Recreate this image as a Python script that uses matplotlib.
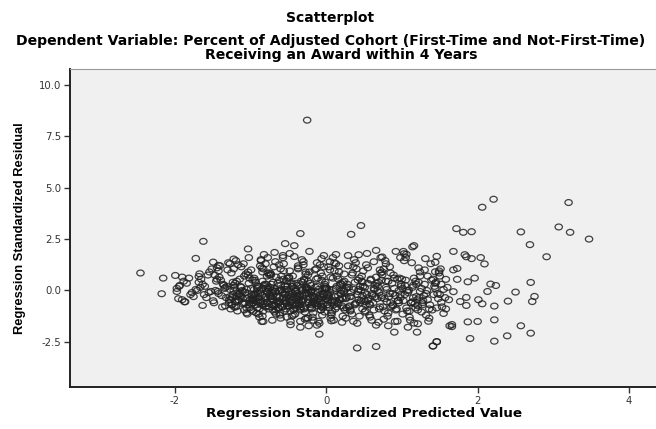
import numpy as np
import matplotlib
matplotlib.use('Agg')
from matplotlib import pyplot as plt
from matplotlib.path import Path

plt.rcParams['font.family'] = ['DejaVu Sans']
plt.rcParams['axes.unicode_minus'] = False

# main cloud, read band by band (predicted value, residual)
xa = [-1.97, -1.61, -1.84, -1.52, -1.93, -1.70, -1.58, -1.88, -1.66, -1.75, -1.55, -1.81, -1.63,
      -1.90, -1.72, -1.54, -1.79, -1.68, -1.86, -1.60, -1.51, -1.77, -1.65, -1.95, -1.56]
ya = [0.1, -0.2, 0.35, -0.05, 0.25, 0.0, -0.35, 0.45, 0.15, -0.3, -0.1, 0.6, 0.3, -0.45, 0.05,
      0.9, -0.2, 0.4, -0.55, 0.2, 1.05, -0.1, 0.55, -0.4, 0.75]
xb = [-1.48, -1.31, -1.44, -1.27, -1.39, -1.46, -1.33, -1.25, -1.42, -1.36, -1.29, -1.49, -1.34,
      -1.41, -1.26, -1.38, -1.45, -1.30, -1.43, -1.28, -1.35, -1.47, -1.32, -1.40, -1.27, -1.37,
      -1.44, -1.26, -1.33, -1.42]
yb = [-0.6, 0.2, 1.1, -0.3, 0.5, 0.0, -0.75, 0.85, -0.15, 0.3, 1.35, -0.5, 0.1, 0.65, -0.9, -0.25,
      0.45, 1.0, -0.05, -0.6, 0.25, 0.75, -0.35, 1.2, 0.05, -0.8, 0.55, -0.45, 0.15, 0.95]
xc = [-1.23, -1.08, -1.17, -1.02, -1.20, -1.12, -1.05, -1.24, -1.14, -1.01, -1.19, -1.07, -1.22,
      -1.10, -1.03, -1.16, -1.21, -1.09, -1.04, -1.18, -1.13, -1.06, -1.24, -1.11, -1.02, -1.15,
      -1.20, -1.08, -1.01, -1.17, -1.22, -1.05, -1.13, -1.19, -1.03, -1.10, -1.16, -1.07, -1.23, -1.12]
yc = [-0.2, 0.7, -1.0, 0.35, -0.55, 1.15, 0.05, -0.35, 0.55, -0.85, 1.45, -0.1, 0.25, -0.65, 0.9,
      -0.45, 0.15, 1.3, -1.15, 0.45, -0.25, 0.8, -0.7, 0.0, 1.6, -0.5, 0.35, -0.95, 0.6, -0.15,
      1.05, -0.4, 0.2, -0.8, 0.75, -0.05, 1.25, -0.6, 0.4, -0.3]
xd = [-0.98, -0.81, -0.92, -0.77, -0.95, -0.86, -0.79, -0.99, -0.89, -0.83, -0.76, -0.94, -0.87,
      -0.80, -0.97, -0.91, -0.84, -0.78, -0.96, -0.88, -0.82, -0.75, -0.93, -0.85, -0.99, -0.90,
      -0.77, -0.83, -0.95, -0.80, -0.87, -0.92, -0.76, -0.98, -0.84, -0.89, -0.79, -0.94, -0.86,
      -0.81, -0.97, -0.78, -0.91, -0.85, -0.96, -0.82, -0.88, -0.75, -0.93, -0.80, -0.90, -0.77,
      -0.99, -0.84, -0.87]
yd = [-0.5, 0.3, -1.1, 0.85, -0.2, 1.5, -0.75, 0.1, -0.35, 1.05, -0.9, 0.5, -0.15, 1.3, -0.6, 0.2,
      -1.25, 0.7, -0.45, 0.0, 1.75, -0.8, 0.4, -0.25, 1.0, -0.55, 0.15, -1.0, 0.6, -0.3, 1.2, -0.7,
      0.05, -0.4, 0.9, -1.15, 0.3, -0.2, 1.45, -0.65, 0.5, -0.05, -0.85, 1.1, -0.35, 0.25, -1.3,
      0.75, -0.5, 0.1, -0.15, 1.6, -0.95, 0.45, -0.6]
xe = [-0.73, -0.56, -0.68, -0.51, -0.71, -0.62, -0.54, -0.74, -0.65, -0.59, -0.52, -0.70, -0.63,
      -0.57, -0.74, -0.66, -0.53, -0.69, -0.60, -0.55, -0.72, -0.64, -0.51, -0.67, -0.58, -0.73,
      -0.61, -0.54, -0.70, -0.56, -0.66, -0.52, -0.71, -0.62, -0.57, -0.68, -0.53, -0.74, -0.64,
      -0.59, -0.55, -0.69, -0.61, -0.72, -0.58, -0.51, -0.67, -0.63, -0.56, -0.70, -0.54, -0.65,
      -0.73, -0.60, -0.52, -0.68, -0.62, -0.57, -0.71, -0.66]
ye = [-0.4, 0.55, -1.05, 0.2, -0.7, 1.25, -0.2, 0.85, -0.55, 0.0, -1.3, 0.4, -0.85, 1.6, -0.3, 0.65,
      -0.6, 0.1, 1.05, -1.0, -0.1, 0.35, -0.75, 1.4, -0.45, 0.75, -1.2, 0.2, -0.25, 0.95, -0.65,
      0.05, -1.45, 0.5, -0.35, 1.85, -0.9, 0.15, -0.5, 0.7, -0.15, 1.15, -1.1, 0.3, -0.8, 0.6,
      -0.05, -0.6, 1.3, -0.95, 0.25, -0.3, 0.8, -1.35, 0.45, -0.7, 0.0, 1.7, -0.45, -1.15]
xf = [-0.48, -0.31, -0.43, -0.26, -0.46, -0.37, -0.29, -0.49, -0.40, -0.34, -0.27, -0.45, -0.38,
      -0.32, -0.49, -0.41, -0.28, -0.44, -0.35, -0.30, -0.47, -0.39, -0.26, -0.42, -0.33, -0.48,
      -0.36, -0.29, -0.45, -0.31, -0.41, -0.27, -0.46, -0.37, -0.32, -0.43, -0.28, -0.49, -0.39,
      -0.34, -0.30, -0.44, -0.36, -0.47, -0.33, -0.26, -0.42, -0.38, -0.31, -0.45, -0.29, -0.40,
      -0.48, -0.35, -0.27, -0.43, -0.37, -0.32, -0.46, -0.41]
yf = [-0.6, 0.4, -1.2, 0.15, -0.3, 1.1, -0.85, 0.6, -0.05, -1.5, 0.9, -0.45, 0.25, 1.5, -0.75, 0.0,
      -1.05, 0.7, -0.2, 1.25, -0.55, 0.35, -1.35, 0.1, -0.9, 1.8, -0.35, 0.5, -0.7, 0.05, -1.15,
      0.8, -0.1, 1.05, -0.5, 0.3, -1.4, 0.65, -0.25, -0.8, 1.4, 0.2, -0.6, -1.0, 0.45, -0.15, 1.65,
      -0.4, 0.0, -1.25, 0.55, -0.7, 0.95, -0.3, 0.15, -0.95, 1.2, -0.55, 0.35, -0.05]
xg = [-0.23, -0.06, -0.18, -0.01, -0.21, -0.12, -0.04, -0.24, -0.15, -0.09, -0.02, -0.20, -0.13,
      -0.07, -0.24, -0.16, -0.03, -0.19, -0.10, -0.05, -0.22, -0.14, -0.01, -0.17, -0.08, -0.23,
      -0.11, -0.04, -0.20, -0.06, -0.16, -0.02, -0.21, -0.12, -0.07, -0.18, -0.03, -0.24, -0.14,
      -0.09, -0.05, -0.19, -0.11, -0.22, -0.08, -0.01, -0.17, -0.13, -0.06, -0.20, -0.04, -0.15,
      -0.23, -0.10, -0.02]
yg = [-0.45, 0.5, -1.3, 0.1, -0.8, 1.35, -0.2, 0.75, -0.6, -1.6, 0.3, -0.05, 1.05, -0.95, 0.45,
      -0.35, 1.7, -0.7, 0.05, -1.2, 0.9, -0.5, 0.2, -1.45, 1.25, -0.15, 0.6, -0.85, 0.0, 1.55, -0.4,
      -1.05, 0.35, -0.65, 0.85, -0.25, 1.15, -1.35, 0.15, -0.55, 0.7, -0.9, -0.1, 1.9, -0.3, 0.4,
      -1.1, 0.55, -0.75, 0.25, -0.2, 1.0, -0.6, -1.5, 0.1]
xh = [0.02, 0.19, 0.07, 0.24, 0.04, 0.13, 0.21, 0.01, 0.10, 0.16, 0.23, 0.05, 0.12, 0.18, 0.01,
      0.09, 0.22, 0.06, 0.15, 0.20, 0.03, 0.11, 0.24, 0.08, 0.17, 0.02, 0.14, 0.21, 0.05, 0.19,
      0.09, 0.23, 0.04, 0.13, 0.18, 0.07, 0.22, 0.01, 0.11, 0.16, 0.20, 0.06, 0.14, 0.03, 0.17]
yh = [-0.5, 0.35, -1.1, 0.8, -0.25, 1.3, -0.75, 0.1, -1.45, 0.55, -0.05, 1.0, -0.9, 0.25, -0.4,
      1.6, -1.25, 0.65, -0.6, 0.0, 1.15, -0.3, 0.45, -1.0, 0.9, -0.7, 0.2, -1.55, 1.4, -0.15, 0.6,
      -0.85, 0.05, 1.75, -0.45, -1.2, 0.4, -0.2, 0.95, -0.65, 0.3, -1.35, 0.7, -0.35, 1.2]
xi = [0.27, 0.44, 0.32, 0.49, 0.29, 0.38, 0.46, 0.26, 0.35, 0.41, 0.48, 0.30, 0.37, 0.43, 0.26,
      0.34, 0.47, 0.31, 0.40, 0.45, 0.28, 0.36, 0.49, 0.33, 0.42, 0.27, 0.39, 0.46, 0.30, 0.44,
      0.34, 0.48, 0.29, 0.38, 0.43, 0.32, 0.47, 0.26, 0.36, 0.41]
yi = [-0.35, 0.6, -1.0, 0.2, 1.2, -0.65, 0.0, -1.35, 0.85, -0.2, 0.4, -0.8, 1.5, -0.45, 0.1, -1.15,
      0.7, -0.3, 1.05, -0.6, 0.3, -1.5, 0.95, -0.1, 0.5, -0.85, 1.35, -0.5, 0.15, -1.25, 0.75,
      -0.25, 1.7, -0.7, 0.05, -0.95, 0.45, -0.4, 1.15, -1.6]
xj = [0.52, 0.69, 0.57, 0.74, 0.54, 0.63, 0.71, 0.51, 0.60, 0.66, 0.73, 0.55, 0.62, 0.68, 0.51,
      0.59, 0.72, 0.56, 0.65, 0.70, 0.53, 0.61, 0.74, 0.58, 0.67, 0.52, 0.64, 0.71, 0.55, 0.69,
      0.59, 0.73, 0.54, 0.63, 0.68, 0.57, 0.72, 0.51]
yj = [-0.55, 0.4, -1.2, 0.9, -0.2, 1.4, -0.8, 0.15, -1.45, 0.65, -0.35, 1.1, -0.6, 0.0, -1.05, 0.5,
      1.6, -0.4, 0.25, -0.9, 1.25, -0.15, 0.75, -1.3, 0.35, -0.7, 0.05, 1.0, -0.5, -1.55, 0.55,
      -0.25, 1.8, -0.95, 0.2, -0.65, 0.85, -0.1]
xk = [0.77, 0.94, 0.82, 0.99, 0.79, 0.88, 0.96, 0.76, 0.85, 0.91, 0.98, 0.80, 0.87, 0.93, 0.76,
      0.84, 0.97, 0.81, 0.90, 0.95, 0.78, 0.86, 0.99, 0.83, 0.92, 0.77, 0.89, 0.96, 0.80, 0.94,
      0.84, 0.98, 0.79, 0.88]
yk = [-0.4, 0.55, -1.1, 0.2, 1.3, -0.7, 0.0, -1.4, 0.85, -0.25, 1.6, -0.55, 0.35, -0.9, 1.05,
      -0.15, 0.6, -1.25, 0.1, -0.5, 1.45, -0.8, 0.3, -0.3, 1.9, -1.0, 0.75, -0.6, 0.05, -1.5, 1.15,
      -0.35, 0.45, -0.75]
xl = [1.02, 1.19, 1.07, 1.24, 1.04, 1.13, 1.21, 1.01, 1.10, 1.16, 1.23, 1.05, 1.12, 1.18, 1.01,
      1.09, 1.22, 1.06, 1.15, 1.20, 1.03, 1.11, 1.24, 1.08, 1.17, 1.02, 1.14, 1.21, 1.05, 1.19]
yl = [-0.5, 0.3, -1.0, 0.9, -0.2, 1.35, -0.75, 0.1, -1.3, 0.6, -0.35, 1.6, -0.6, 0.45, -1.15, 0.0,
      1.1, -0.85, 0.25, -0.45, 1.45, -1.45, 0.7, -0.1, -0.65, 1.9, 0.15, -0.95, 0.5, -0.3]
xm = [1.27, 1.44, 1.32, 1.49, 1.29, 1.38, 1.46, 1.26, 1.35, 1.41, 1.48, 1.30, 1.37, 1.43, 1.26,
      1.34, 1.47, 1.31, 1.40, 1.45, 1.28, 1.36, 1.49, 1.33]
ym = [-0.6, 0.35, -1.2, 0.85, -0.25, 1.3, -0.85, 0.1, -1.5, 0.55, -0.4, 1.0, -0.7, 0.2, -1.05, 0.7,
      -0.15, 1.55, -0.95, 0.4, -0.5, -1.35, 0.95, 0.0]

# the dark core of the cloud (left and right halves)
xn = [-1.28, -1.15, -1.02, -0.91, -0.83, -0.72, -0.64, -0.55, -0.47, -0.38, -0.29, -0.21, -0.12,
      -0.04, 0.05, 0.14, 0.22, 0.28,
      -1.22, -1.09, -0.97, -0.88, -0.77, -0.69, -0.60, -0.51, -0.43, -0.34, -0.25, -0.17, -0.08,
      0.01, 0.09, 0.18, 0.25,
      -1.25, -1.12, -1.00, -0.93, -0.80, -0.70, -0.62, -0.53, -0.45, -0.36, -0.27, -0.19, -0.10,
      -0.02, 0.07, 0.16, 0.24,
      -1.18, -1.05, -0.95, -0.86, -0.75, -0.66, -0.58, -0.49, -0.41, -0.32, -0.23, -0.14, -0.06,
      0.03, 0.12, 0.20,
      -1.20, -1.07, -0.99, -0.89, -0.79, -0.68, -0.59, -0.50, -0.42, -0.33, -0.24, -0.15, -0.05,
      0.04, 0.13,
      -1.10, -0.96, -0.84, -0.73, -0.63, -0.54, -0.44, -0.35, -0.26, -0.16, -0.07, 0.02, 0.11, 0.21,
      -1.14, -0.90, -0.78, -0.67, -0.57, -0.48, -0.39, -0.30, -0.20, -0.11, -0.03, 0.08,
      -0.98, -0.85, -0.71, -0.61, -0.52, -0.40, -0.31, -0.18, -0.09, 0.00, 0.10]
yn = [-0.45, -0.2, -0.7, 0.1, -0.55, -0.3, -0.85, 0.05, -0.6, -0.15, -0.9, -0.35, 0.2, -0.65, -0.1,
      -0.8, -0.4, 0.15,
      0.0, -0.6, -0.25, -0.9, -0.05, -0.5, 0.25, -0.75, -0.3, -0.95, 0.1, -0.55, -0.2, -0.7, 0.05,
      -0.45, -0.95,
      -0.7, 0.15, -0.45, -0.15, -0.8, 0.0, -0.35, -0.6, 0.2, -0.5, -0.1, -0.85, -0.4, 0.1, -0.6,
      -0.25, 0.0,
      -0.3, -0.85, 0.05, -0.5, -0.2, -0.95, -0.1, -0.4, -0.75, 0.15, -0.55, -0.05, -0.8, -0.3,
      -0.5, -0.15,
      -0.55, -0.1, -0.65, 0.2, -0.4, -0.75, 0.05, -0.25, -0.9, -0.45, 0.0, -0.65, -0.35, -0.85, 0.1,
      -0.4, -0.6, 0.1, -0.3, -0.85, -0.5, -0.15, -0.7, 0.05, -0.45, -0.95, -0.2, -0.55, -0.35,
      -0.15, -0.35, -0.6, -0.05, -0.8, -0.2, -0.65, -0.45, -0.1, -0.75, -0.3, -0.5,
      -0.25, -0.7, -0.1, -0.55, -0.35, -0.85, -0.25, -0.6, -0.4, 0.1, -0.7]
xq = [0.33, 0.45, 0.58, 0.70, 0.82, 0.95, 1.07, 1.18, 1.30, 1.42,
      0.38, 0.50, 0.63, 0.75, 0.88, 1.00, 1.12, 1.24, 1.36,
      0.31, 0.42, 0.55, 0.67, 0.79, 0.92, 1.04, 1.15, 1.27, 1.39,
      0.36, 0.48, 0.61, 0.73, 0.85, 0.98, 1.10, 1.22, 1.34, 1.44,
      0.40, 0.65, 0.90, 1.14, 1.32, 0.52]
yq = [-0.3, 0.2, -0.7, -0.1, 0.45, -0.5, 0.0, -0.85, 0.3, -0.2,
      0.4, -0.45, 0.1, -0.8, -0.15, 0.55, -0.6, -0.05, -0.9,
      -0.75, -0.05, 0.35, -0.4, 0.15, -0.95, 0.25, -0.35, -0.7, 0.5,
      0.05, -0.9, -0.25, 0.5, -0.6, -0.2, -1.0, 0.4, -0.45, 0.1,
      -0.6, -0.3, 0.6, -0.55, -0.15, -1.0]

# scattered points away from the cloud
x_out = [-2.45, -2.15, -2.17, -1.99, -1.90, -1.62, -1.72, -1.49, -1.42, -1.22, -1.27, -1.03,
         -1.87, -1.63, -1.21, -1.05, -0.96, -0.85, -1.94, -1.97, -1.67, -1.68,
         -0.25, 0.46, 0.33, -0.34, -0.54, -0.42, 0.43, 0.66, 0.74, 1.16, 1.14, 1.03, 1.06, 1.46, 0.11,
         -0.83, -0.47, -0.47, -0.34, -0.23, -0.12, -0.09, 0.07, 0.41, 0.66, 0.66, 0.82, 0.91, 0.90,
         1.08, 1.16, 1.21, 1.20, 1.41, 1.46, 1.63,
         2.21, 2.06, 3.20, 1.72, 1.81, 1.92, 2.57, 3.07, 3.22, 3.47, 2.69, 2.91, 1.68, 1.83, 1.85,
         1.92, 2.04, 2.09, 1.44, 1.68, 1.73, 1.44, 1.58, 1.73, 1.96, 1.87, 2.70, 2.17, 2.24, 2.13,
         2.50, 1.68, 2.75, 1.85, 2.72, 2.40, 2.01, 2.06, 1.77, 1.85, 2.22, 1.52, 1.55, 1.66, 1.66,
         1.87, 2.00, 2.22, 2.57, 2.70, 2.39, 1.90, 2.22, 1.46, 1.41,
         1.52, 1.55, 1.50, 1.57, 1.53, 1.60, 1.50, 1.58, 1.62, 1.51]
y_out = [0.85, 0.60, -0.16, 0.73, 0.65, 2.39, 1.56, 1.38, 1.22, 1.53, 1.30, 2.02,
         -0.55, -0.73, -0.81, -1.09, -1.02, -1.51, 0.20, -0.05, 0.81, 0.68,
         8.29, 3.16, 2.73, 2.77, 2.28, 2.18, 1.74, 1.95, 1.63, 2.18, 2.12, 1.79, 1.76, 1.66, 1.34,
         -1.51, -1.51, -1.67, -1.79, -1.72, -1.69, -2.13, -1.48, -2.80, -2.73, -1.69, -1.72, -1.51,
         -2.03, -1.79, -1.59, -1.62, -2.03, -2.70, -2.50, -1.72,
         4.44, 4.05, 4.28, 3.01, 2.83, 2.86, 2.85, 3.09, 2.83, 2.50, 2.23, 1.64, 1.90, 1.74, 1.64,
         1.55, 1.60, 1.29, 1.37, 1.00, 1.07, 0.91, 0.54, 0.54, 0.60, 0.42, 0.39, 0.31, 0.24, -0.05,
         -0.08, -0.06, -0.29, -0.34, -0.54, -0.52, -0.45, -0.65, -0.54, -0.73, -0.76, -0.58, -1.12,
         -1.66, -1.76, -1.53, -1.51, -1.43, -1.72, -2.08, -2.21, -2.34, -2.47, -2.49, -2.71,
         0.30, 0.05, -0.20, -0.35, -0.80, 0.15, 0.70, -0.90, -0.45, 1.05]

x_all = np.concatenate([xa, xb, xc, xd, xe, xf, xg, xh, xi, xj, xk, xl, xm, xn, xq, x_out])
y_all = np.concatenate([ya, yb, yc, yd, ye, yf, yg, yh, yi, yj, yk, yl, ym, yn, yq, y_out])

# slightly flattened open circle like the SPSS marker
circ = Path.unit_circle()
oval = Path(circ.vertices * [1.0, 0.8], circ.codes)

fig = plt.figure(figsize=(6.56, 4.29), dpi=100)
ax = fig.add_axes([70 / 656, 42 / 429, 588 / 656, 318 / 429])
ax.set_facecolor('#f0f0f0')
ax.scatter(x_all, y_all, s=28, marker=oval, facecolors='none',
           edgecolors='#222222', linewidths=0.9, alpha=0.85)

ax.set_xlim(-3.38, 4.38)
ax.set_ylim(-4.7, 10.78)
ax.set_xticks([-2, 0, 2, 4])
ax.set_yticks([-2.5, 0.0, 2.5, 5.0, 7.5, 10.0])
ax.set_yticklabels(['-2.5', '0.0', '2.5', '5.0', '7.5', '10.0'])
ax.tick_params(labelsize=7.3, colors='#333333', length=4, width=1, pad=2.5)

for side in ['left', 'bottom']:
    ax.spines[side].set_linewidth(1.4)
    ax.spines[side].set_color('#222222')
ax.spines['top'].set_color('#999999')
ax.spines['top'].set_linewidth(0.8)
ax.spines['right'].set_visible(False)

ax.set_xlabel('Regression Standardized Predicted Value', fontsize=9.7, fontweight='bold',
              labelpad=1)
ax.set_ylabel('Regression Standardized Residual', fontsize=9.3, fontweight='bold',
              family='Liberation Sans', labelpad=9)

fig.text(330 / 656, 1 - 18 / 429, 'Scatterplot', ha='center', va='center',
         fontsize=10.0, fontweight='bold')
fig.text(331 / 656, 1 - 41 / 429,
         'Dependent Variable: Percent of Adjusted Cohort (First-Time and Not-First-Time)',
         ha='center', va='center', fontsize=10.1, fontweight='bold')
fig.text(341 / 656, 1 - 54.5 / 429, 'Receiving an Award within 4 Years',
         ha='center', va='center', fontsize=10.1, fontweight='bold')

fig.savefig('out.png', dpi=100)
